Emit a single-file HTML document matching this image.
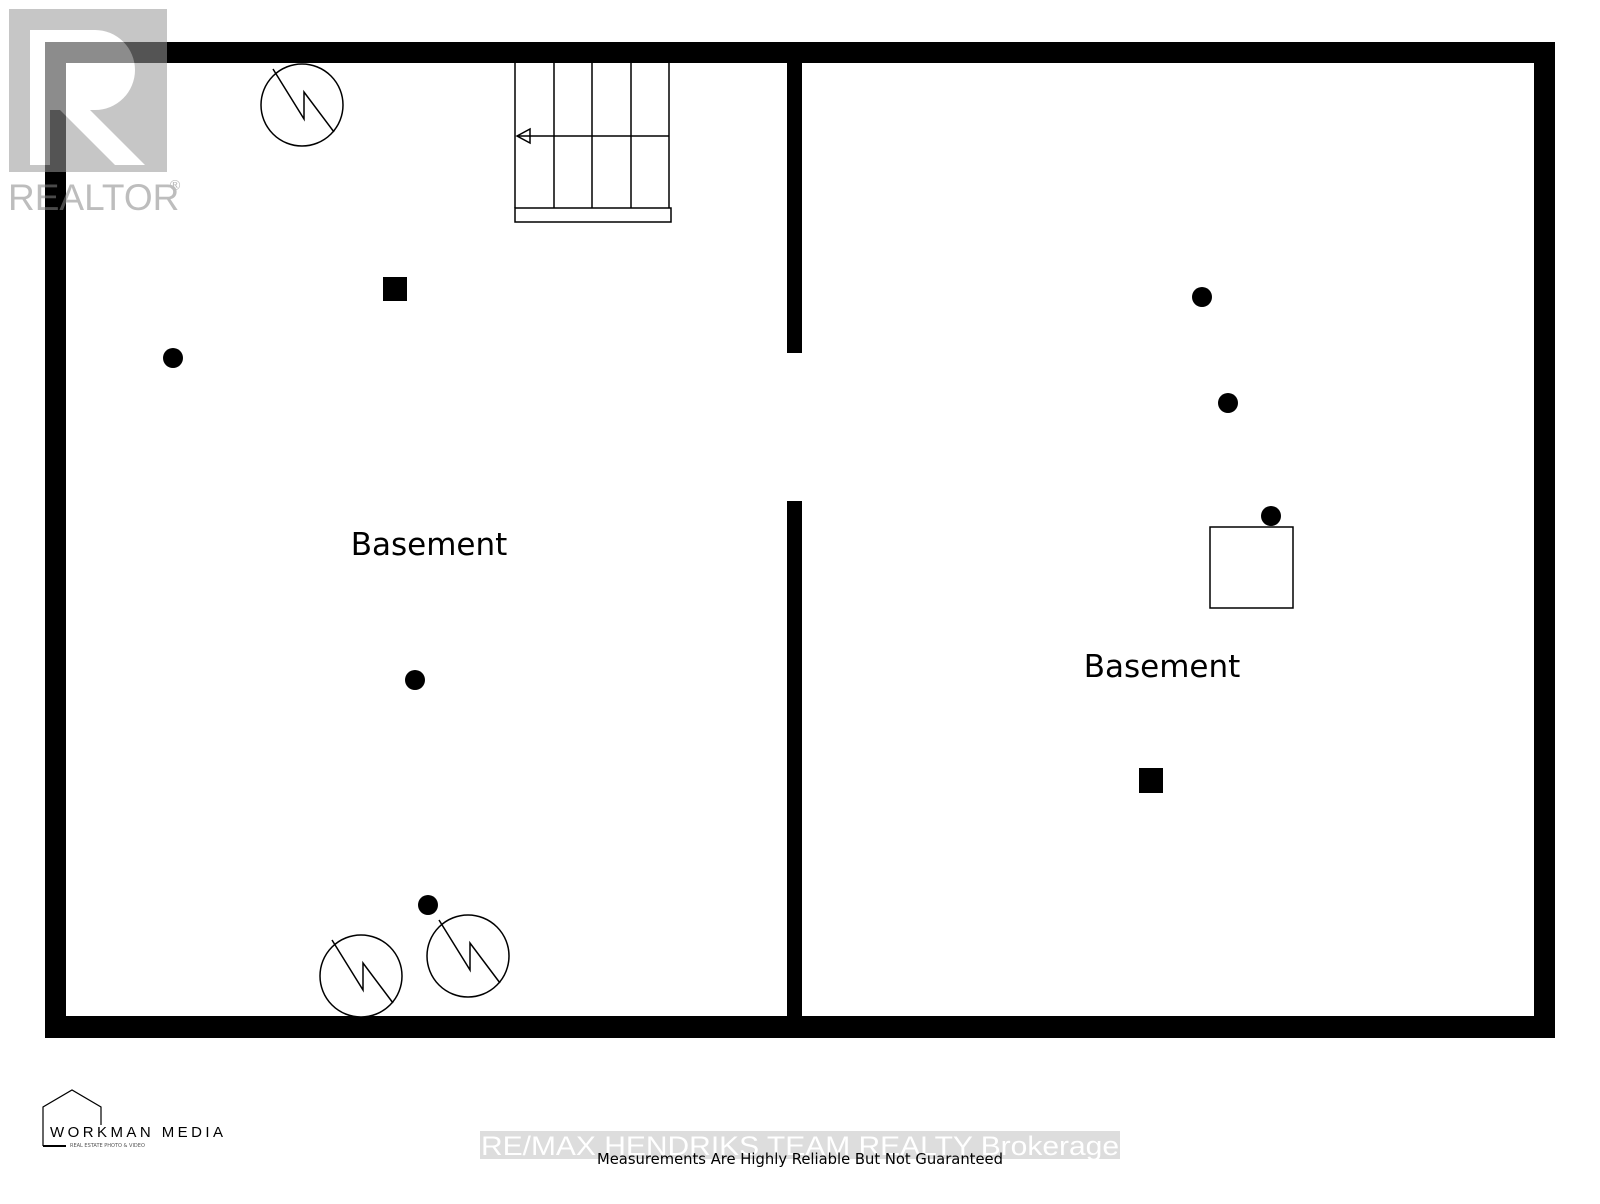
<!DOCTYPE html>
<html><head><meta charset="utf-8"><style>
body{margin:0;background:#fff;width:1600px;height:1200px;overflow:hidden;font-family:"DejaVu Sans","Liberation Sans",sans-serif}
</style></head><body>
<svg width="1600" height="1200" viewBox="0 0 1600 1200" xmlns="http://www.w3.org/2000/svg">
<defs>
<g id="z"><circle r="41" fill="#fff" stroke="#000" stroke-width="1.5"/><polyline points="-29,-36 2,14 2,-13 32,27" fill="none" stroke="#000" stroke-width="1.5"/></g>
</defs>
<path d="M45,42H1555V1038H45Z M66,63V1016H787V63Z M802,63V1016H1534V63Z" fill="#000" fill-rule="evenodd"/>
<rect x="786" y="353" width="17" height="148" fill="#fff"/>
<g stroke="#000" stroke-width="1.5" fill="none">
<line x1="515" y1="63" x2="515" y2="208"/>
<line x1="554" y1="63" x2="554" y2="208"/>
<line x1="592" y1="63" x2="592" y2="208"/>
<line x1="631" y1="63" x2="631" y2="208"/>
<line x1="669" y1="63" x2="669" y2="208"/>
<rect x="515" y="208" width="156" height="14"/>
<line x1="517" y1="136" x2="669" y2="136"/>
<polygon points="517,136 530,129 530,143"/>
</g>
<use href="#z" x="302" y="105"/>
<use href="#z" x="361" y="976"/>
<use href="#z" x="468" y="956"/>
<g fill="#000">
<circle cx="173" cy="358" r="10"/>
<circle cx="415" cy="680" r="10"/>
<circle cx="428" cy="905" r="10"/>
<circle cx="1202" cy="297" r="10"/>
<circle cx="1228" cy="403" r="10"/>
<circle cx="1271" cy="516" r="10"/>
<rect x="383" y="277" width="24" height="24"/>
<rect x="1139" y="768" width="24" height="25"/>
</g>
<rect x="1210" y="527" width="83" height="81" fill="none" stroke="#000" stroke-width="1.5"/>
<text x="429" y="555" font-size="31" text-anchor="middle" font-family="DejaVu Sans">Basement</text>
<text x="1162" y="677" font-size="31" text-anchor="middle" font-family="DejaVu Sans">Basement</text>
<g opacity="0.55">
<rect x="9" y="9" width="158" height="163" fill="#999"/>
<path d="M30,30h65a40,40 0 0 1 0,80h-5l55,55h-30l-55,-55h-10v55h-20Z" fill="#fff"/>
<text x="8" y="210" font-size="37" fill="#888" font-family="Liberation Sans">REALTOR</text>
<text x="168" y="190" font-size="14" fill="#888">®</text>
</g>
<path d="M43,1146V1107L72,1090L101,1107V1125" fill="none" stroke="#000" stroke-width="1.2"/>
<line x1="43" y1="1146" x2="66" y2="1146" stroke="#000" stroke-width="2"/>
<text x="50" y="1137" font-size="15" letter-spacing="2" textLength="175" font-family="Liberation Sans">WORKMAN MEDIA</text>
<text x="70" y="1147" font-size="5" fill="#555">REAL ESTATE PHOTO &amp; VIDEO</text>
<rect x="480" y="1131" width="640" height="28" fill="#ddd"/>
<text x="481" y="1155" font-size="27" fill="#fff" textLength="638" lengthAdjust="spacingAndGlyphs" font-family="Liberation Sans">RE/MAX  HENDRIKS TEAM REALTY  Brokerage</text>
<text x="597" y="1164" font-size="15" textLength="406" lengthAdjust="spacingAndGlyphs" font-family="DejaVu Sans">Measurements Are Highly Reliable But Not Guaranteed</text>
</svg>
</body></html>
